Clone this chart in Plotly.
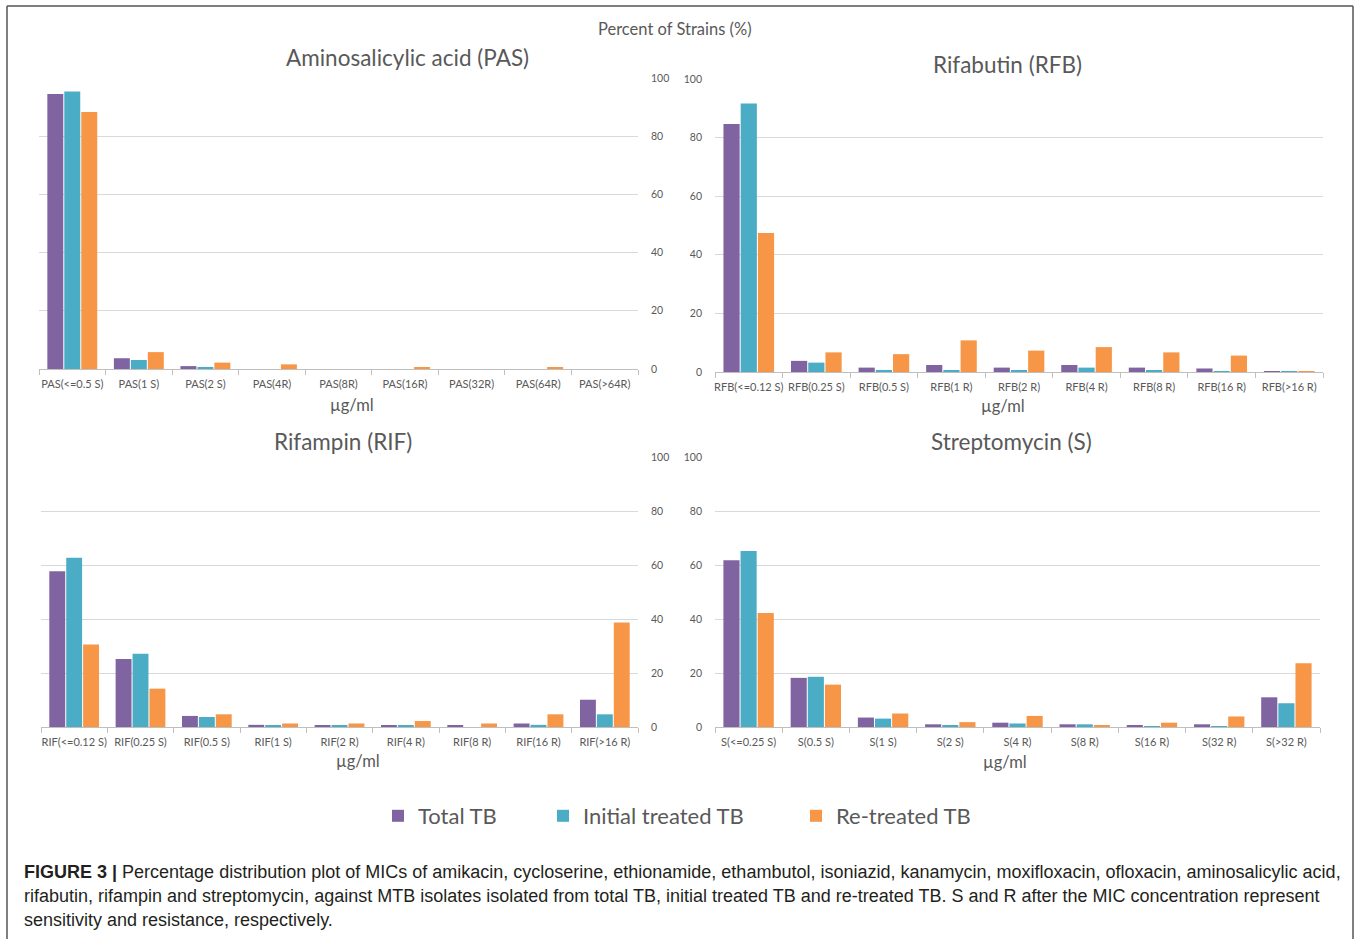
import plotly.graph_objects as go

W, H = 1360, 939

series_names = ["Total TB", "Initial treated TB", "Re-treated TB"]
series_colors = ["#8064A2", "#4BACC6", "#F79646"]

# Aminosalicylic acid (PAS)
pas_cats = ["PAS(<=0.5 S)", "PAS(1 S)", "PAS(2 S)", "PAS(4R)", "PAS(8R)",
            "PAS(16R)", "PAS(32R)", "PAS(64R)", "PAS(>64R)"]
pas_total = [94.5, 3.7, 1.0, 0, 0, 0, 0, 0, 0]
pas_initial = [95.4, 3.1, 0.7, 0, 0, 0, 0, 0, 0]
pas_retreated = [88.3, 5.8, 2.2, 1.6, 0, 0.4, 0, 0.4, 0]

# Rifabutin (RFB)
rfb_cats = ["RFB(<=0.12 S)", "RFB(0.25 S)", "RFB(0.5 S)", "RFB(1 R)", "RFB(2 R)",
            "RFB(4 R)", "RFB(8 R)", "RFB(16 R)", "RFB(>16 R)"]
rfb_total = [84.6, 3.8, 1.5, 2.4, 1.5, 2.4, 1.5, 1.2, 0.3]
rfb_initial = [91.6, 3.2, 0.7, 0.6, 0.6, 1.5, 0.6, 0.3, 0.3]
rfb_retreated = [47.4, 6.7, 6.1, 10.8, 7.3, 8.5, 6.7, 5.6, 0.3]

# Rifampin (RIF)
rif_cats = ["RIF(<=0.12 S)", "RIF(0.25 S)", "RIF(0.5 S)", "RIF(1 S)", "RIF(2 R)",
            "RIF(4 R)", "RIF(8 R)", "RIF(16 R)", "RIF(>16 R)"]
rif_total = [57.7, 25.2, 4.1, 0.8, 0.4, 0.4, 0.4, 1.3, 10.1]
rif_initial = [62.7, 27.1, 3.7, 0.4, 0.4, 0.4, 0, 0.8, 4.7]
rif_retreated = [30.6, 14.2, 4.7, 1.3, 1.3, 2.2, 1.3, 4.7, 38.7]

# Streptomycin (S)
s_cats = ["S(<=0.25 S)", "S(0.5 S)", "S(1 S)", "S(2 S)", "S(4 R)",
          "S(8 R)", "S(16 R)", "S(32 R)", "S(>32 R)"]
s_total = [61.8, 18.2, 3.5, 1.0, 1.6, 1.0, 0.4, 1.0, 11.0]
s_initial = [65.2, 18.6, 3.1, 0.6, 1.3, 1.0, 0.3, 0.3, 8.8]
s_retreated = [42.2, 15.7, 5.0, 1.8, 4.1, 0.6, 1.6, 3.9, 23.6]

panel_titles = ["Aminosalicylic acid (PAS)", "Rifabutin (RFB)", "Rifampin (RIF)", "Streptomycin (S)"]
y_ticks = [0, 20, 40, 60, 80, 100]
unit_label = "µg/ml"
top_title = "Percent of Strains (%)"
caption_lines = [
    "<b>FIGURE 3 |</b> Percentage distribution plot of MICs of amikacin, cycloserine, ethionamide, ethambutol, isoniazid, kanamycin, moxifloxacin, ofloxacin, aminosalicylic acid,",
    "rifabutin, rifampin and streptomycin, against MTB isolates isolated from total TB, initial treated TB and re-treated TB. S and R after the MIC concentration represent",
    "sensitivity and resistance, respectively.",
]

panels = [
    (pas_cats, [pas_total, pas_initial, pas_retreated]),
    (rfb_cats, [rfb_total, rfb_initial, rfb_retreated]),
    (rif_cats, [rif_total, rif_initial, rif_retreated]),
    (s_cats, [s_total, s_initial, s_retreated]),
]

# pixel boxes of plot areas: (x0, x1, ytop, ybottom)
boxes = [(39, 638, 78, 369), (715, 1323, 79, 372), (41, 638, 457, 727), (715, 1320, 457, 727)]
ylabel_side = ["right", "left", "right", "left"]
title_pos = [(407, 58), (1007, 64), (343, 441), (1011, 441)]
unit_pos = [(352, 405), (1003, 406), (358, 761), (1005, 762)]

def px(x):
    return x / W

def py(y):
    return 1 - y / H

fig = go.Figure()
GRAY = "#595959"
FONT = "Lato, Open Sans, sans-serif"

for i, (cats, vals) in enumerate(panels):
    xa = "x" if i == 0 else f"x{i+1}"
    ya = "y" if i == 0 else f"y{i+1}"
    for k in range(3):
        fig.add_trace(go.Bar(
            x=cats, y=vals[k], name=series_names[k],
            marker=dict(color=series_colors[k], line=dict(width=0)),
            xaxis=xa, yaxis=ya,
            showlegend=(i == 0),
            legend=("legend" if k == 0 else f"legend{k+1}"),
        ))
    x0, x1, yt, yb = boxes[i]
    xkey = "xaxis" if i == 0 else f"xaxis{i+1}"
    ykey = "yaxis" if i == 0 else f"yaxis{i+1}"
    fig.layout[xkey] = dict(
        domain=[px(x0), px(x1)], anchor=ya, type="category",
        showline=True, linecolor="#BFBFBF", linewidth=1,
        ticks="outside", tickson="boundaries", ticklen=5, tickcolor="#BFBFBF",
        ticklabelstandoff=5,
        tickfont=dict(family=FONT, size=11, color=GRAY), tickangle=0,
        showgrid=False, fixedrange=True,
    )
    fig.layout[ykey] = dict(
        domain=[py(yb), py(yt)], anchor=xa, range=[0, 100],
        tickvals=y_ticks, side=ylabel_side[i],
        showgrid=True, gridcolor="#D9D9D9", gridwidth=1,
        zeroline=False, showline=False, ticks="",
        ticklabelstandoff=12,
        tickfont=dict(family=FONT, size=10.5, color=GRAY), fixedrange=True,
    )
    tx, ty = title_pos[i]
    fig.add_annotation(x=px(tx), y=py(ty), xref="paper", yref="paper",
                       text=panel_titles[i], showarrow=False,
                       font=dict(family=FONT, size=22.5, color=GRAY),
                       xanchor="center", yanchor="middle")
    ux, uy = unit_pos[i]
    fig.add_annotation(x=px(ux), y=py(uy), xref="paper", yref="paper",
                       text=unit_label, showarrow=False,
                       font=dict(family=FONT, size=16.5, color=GRAY),
                       xanchor="center", yanchor="middle")

fig.add_annotation(x=px(675), y=py(29), xref="paper", yref="paper",
                   text=top_title, showarrow=False,
                   font=dict(family=FONT, size=16.5, color=GRAY),
                   xanchor="center", yanchor="middle")

for j, line in enumerate(caption_lines):
    fig.add_annotation(x=px(22), y=py(872 + 24 * j), xref="paper", yref="paper",
                       text=line, showarrow=False, align="left",
                       font=dict(family="Liberation Sans, Arial, sans-serif", size=18, color="#231F20"),
                       xanchor="left", yanchor="middle")

# frame around the figure (left, top, right edges)
frame_line = dict(color="#555555", width=1.5)
fig.add_shape(type="line", xref="paper", yref="paper", x0=px(7), x1=px(7), y0=0, y1=py(6), line=frame_line)
fig.add_shape(type="line", xref="paper", yref="paper", x0=px(7), x1=px(1353), y0=py(6), y1=py(6), line=frame_line)
fig.add_shape(type="line", xref="paper", yref="paper", x0=px(1353), x1=px(1353), y0=0, y1=py(6), line=frame_line)

legend_x = [398, 563, 816]
legend_common = dict(orientation="h", yanchor="middle", xanchor="left",
                     font=dict(family=FONT, size=22, color=GRAY),
                     bgcolor="rgba(0,0,0,0)", borderwidth=0)
fig.update_layout(
    legend=dict(x=px(legend_x[0] - 20), y=py(816), **legend_common),
    legend2=dict(x=px(legend_x[1] - 20), y=py(816), **legend_common),
    legend3=dict(x=px(legend_x[2] - 20), y=py(816), **legend_common),
)

fig.update_layout(
    width=W, height=H, margin=dict(l=0, r=0, t=0, b=0, autoexpand=False),
    paper_bgcolor="white", plot_bgcolor="white",
    barmode="group", bargap=0.235, bargroupgap=0.06,
    font=dict(family=FONT, color=GRAY),
)

fig.write_html("out.html")
